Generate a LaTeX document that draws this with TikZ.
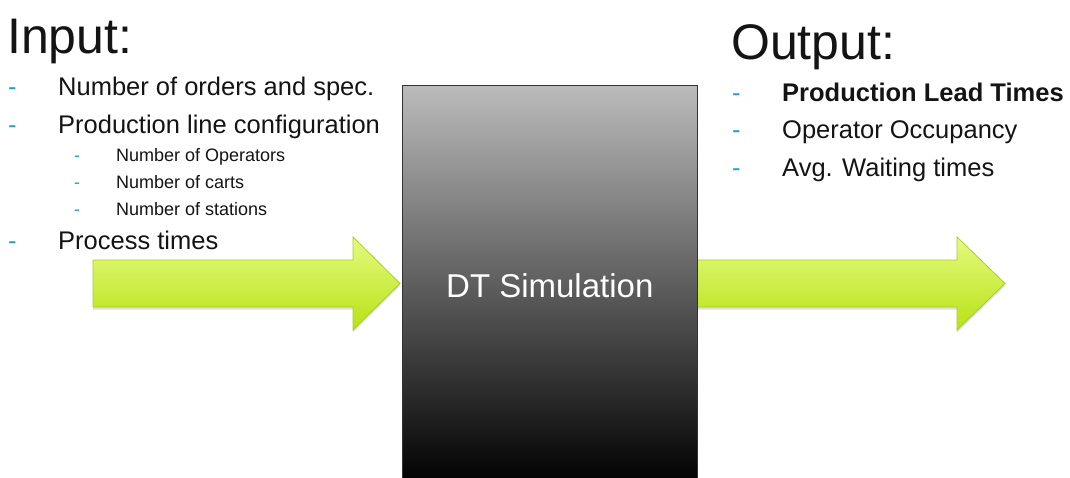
\documentclass[tikz,border=0pt]{standalone}
\usepackage{fontspec}
\setmainfont{Liberation Sans}
\usetikzlibrary{shadows}
\definecolor{dashcyan}{RGB}{30,160,210}
\definecolor{txt}{RGB}{20,20,20}
\definecolor{boxtop}{RGB}{187,187,187}
\definecolor{boxbot}{RGB}{0,0,0}
\definecolor{arrtop}{RGB}{228,250,128}
\definecolor{arrbot}{RGB}{184,226,20}
\definecolor{arredge}{RGB}{170,206,40}
\tikzset{
  big/.style={anchor=base west, inner sep=0pt, text=txt, font=\fontsize{50}{60}\selectfont},
  item/.style={anchor=base west, inner sep=0pt, text=txt, font=\fontsize{25.5}{30}\selectfont},
  subitem/.style={anchor=base west, inner sep=0pt, text=txt, font=\fontsize{18}{22}\selectfont},
  bul/.style={anchor=base west, inner sep=0pt, text=dashcyan, font=\fontsize{25.5}{30}\selectfont},
  subbul/.style={anchor=base west, inner sep=0pt, text=dashcyan, font=\fontsize{18}{22}\selectfont},
  blockarrow/.style={draw=arredge, line width=0.8pt, top color=arrtop, bottom color=arrbot,
     drop shadow={opacity=0.25, shadow xshift=0pt, shadow yshift=-2.5pt}},
  simbox/.style={draw=black!80, line width=0.6pt, top color=boxtop, bottom color=boxbot,
     minimum width=295pt, minimum height=400pt, anchor=north west, inner sep=0pt,
     text=white, font=\fontsize{33}{40}\selectfont}
}
\begin{document}
\begin{tikzpicture}[x=1pt,y=-1pt]
\useasboundingbox[fill=white] (0,0) rectangle (1070,478);

% arrows
\draw[blockarrow] (93,260) -- (353,260) -- (353,237) -- (400,283.5) -- (353,330) -- (353,307) -- (93,307) -- cycle;
\draw[blockarrow] (697,260) -- (957,260) -- (957,237) -- (1005,283.5) -- (957,330) -- (957,307) -- (697,307) -- cycle;

% simulation box
\node[simbox] (sim) at (402,85) {DT Simulation};

% input
\node[big] (intitle) at (7,54) {Input:};
\node[bul] (b1) at (8,96) {-};
\node[item] (i1) at (58,96) {Number of orders and spec.};
\node[bul] (b2) at (8,133.2) {-};
\node[item] (i2) at (58,133.2) {Production line configuration};
\node[subbul] (sb1) at (74,161.5) {-};
\node[subitem] (s1) at (116,161.5) {Number of Operators};
\node[subbul] (sb2) at (74,188.5) {-};
\node[subitem] (s2) at (116,188.5) {Number of carts};
\node[subbul] (sb3) at (74,215.3) {-};
\node[subitem] (s3) at (116,215.3) {Number of stations};
\node[bul] (b3) at (8,249.2) {-};
\node[item] (i3) at (58,249.2) {Process times};

% output
\node[big] (outtitle) at (731,59.5) {Output:};
\node[bul] (o1b) at (732,101.5) {-};
\node[item, font=\fontsize{25.5}{30}\selectfont\bfseries] (o1) at (782,101.5) {Production Lead Times};
\node[bul] (o2b) at (732,139) {-};
\node[item] (o2) at (782,139) {Operator Occupancy};
\node[bul] (o3b) at (732,176.5) {-};
\node[item] (o3) at (782,176.5) {Avg. Waiting times};
\end{tikzpicture}
\end{document}
